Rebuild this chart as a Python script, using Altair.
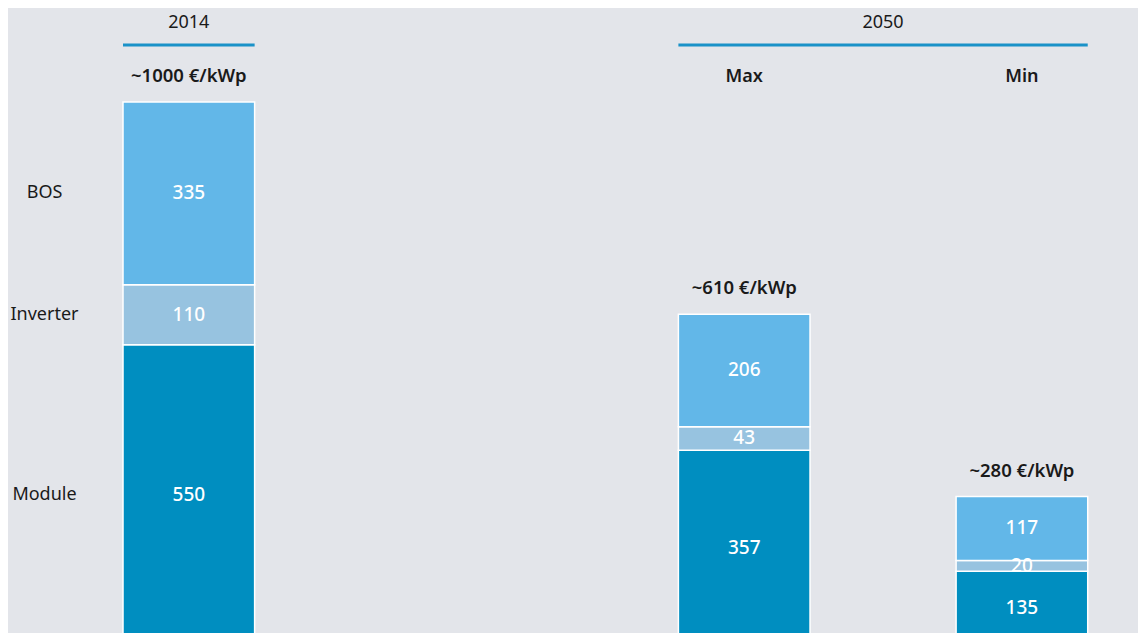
import altair as alt
import pandas as pd

# ---- data ----
bars = ["2014", "Max", "Min"]
components = ["Module", "Inverter", "BOS"]
module = [550, 357, 135]
inverter = [110, 43, 20]
bos = [335, 206, 117]
total_labels = ["~1000 €/kWp", "~610 €/kWp", "~280 €/kWp"]
sub_bars = ["Max", "Min"]
sub_labels = ["Max", "Min"]
groups = ["2014", "2050"]
group_first = ["2014", "Max"]
group_last = ["2014", "Min"]
x_domain = ["2014", "gap", "Max", "Min"]

comp_colors = ["#008ec0", "#97c3e0", "#62b7e8"]
BG = "#e3e5ea"
LINE = "#1a92c8"
TXT = "#1a1a1a"
FONT = "Noto Sans"

# ---- tables ----
rows = []
for i, b in enumerate(bars):
    start = 0
    for c, vals in zip(components, [module, inverter, bos]):
        v = vals[i]
        rows.append(dict(bar=b, component=c, value=v, start=start,
                         end=start + v, mid=start + v / 2))
        start += v
df = pd.DataFrame(rows)
df_tot = pd.DataFrame(dict(bar=bars, label=total_labels,
                           total=[module[i] + inverter[i] + bos[i] for i in range(len(bars))]))
df_sub = pd.DataFrame(dict(bar=sub_bars, label=sub_labels))
df_grp = pd.DataFrame(dict(group=groups, first=group_first, last=group_last))

# ---- layout ----
W, H = 1130, 625
R0 = 115
PI = 0.526
step = 277.7
R1 = R0 + step * (len(x_domain) - PI)
bw = step * (1 - PI)

def band_start(cat):
    return R0 + x_domain.index(cat) * step

xs = alt.Scale(domain=x_domain, range=[R0, R1], paddingInner=PI, paddingOuter=0)
ys = alt.Scale(domain=[22, 1167], zero=False, nice=False)
X = alt.X("bar:N", scale=xs, axis=None)

base = alt.Chart(df)

bar_layer = base.mark_bar(stroke="white", strokeWidth=1.5, clip=True).encode(
    x=X,
    y=alt.Y("start:Q", scale=ys, axis=None),
    y2="end:Q",
    color=alt.Color("component:N", scale=alt.Scale(domain=components, range=comp_colors), legend=None),
)

val_layer = base.mark_text(color="white", fontSize=19, fontWeight=500, font=FONT, baseline="middle").encode(
    x=X, y=alt.Y("mid:Q", scale=ys, axis=None), text="value:Q"
)

cat_layer = alt.Chart(df).transform_filter(alt.datum.bar == "2014").mark_text(
    color=TXT, fontSize=18, font=FONT, align="center", baseline="middle"
).encode(x=alt.value(36.5), y=alt.Y("mid:Q", scale=ys, axis=None), text="component:N")

tot_layer = alt.Chart(df_tot).mark_text(
    color=TXT, fontSize=18.5, fontWeight=600, font=FONT, baseline="middle", dy=-26
).encode(x=X, y=alt.Y("total:Q", scale=ys, axis=None), text="label:N")

sub_layer = alt.Chart(df_sub).mark_text(
    color=TXT, fontSize=18, fontWeight=600, font=FONT, baseline="middle"
).encode(x=X, y=alt.value(69), text="label:N")

rule_layer = alt.Chart(df_grp).mark_rule(color=LINE, strokeWidth=3).encode(
    x=alt.X("first:N", scale=xs, axis=None, bandPosition=0),
    x2=alt.X2("last:N", bandPosition=1),
    y=alt.value(37),
)

grp_layers = []
for g, f, l in zip(groups, group_first, group_last):
    cx = (band_start(f) + band_start(l) + bw) / 2
    grp_layers.append(
        alt.Chart(pd.DataFrame(dict(group=[g]))).mark_text(
            color=TXT, fontSize=18, font=FONT, baseline="middle"
        ).encode(x=alt.value(cx), y=alt.value(15), text="group:N")
    )

chart = alt.layer(bar_layer, val_layer, cat_layer, tot_layer, sub_layer, rule_layer, *grp_layers).properties(
    width=W, height=H, background=BG, padding=0,
    autosize=alt.AutoSizeParams(type="none"),
).configure_view(stroke=None)

chart.save("out.html", embed_options={"renderer": "svg", "actions": False})
